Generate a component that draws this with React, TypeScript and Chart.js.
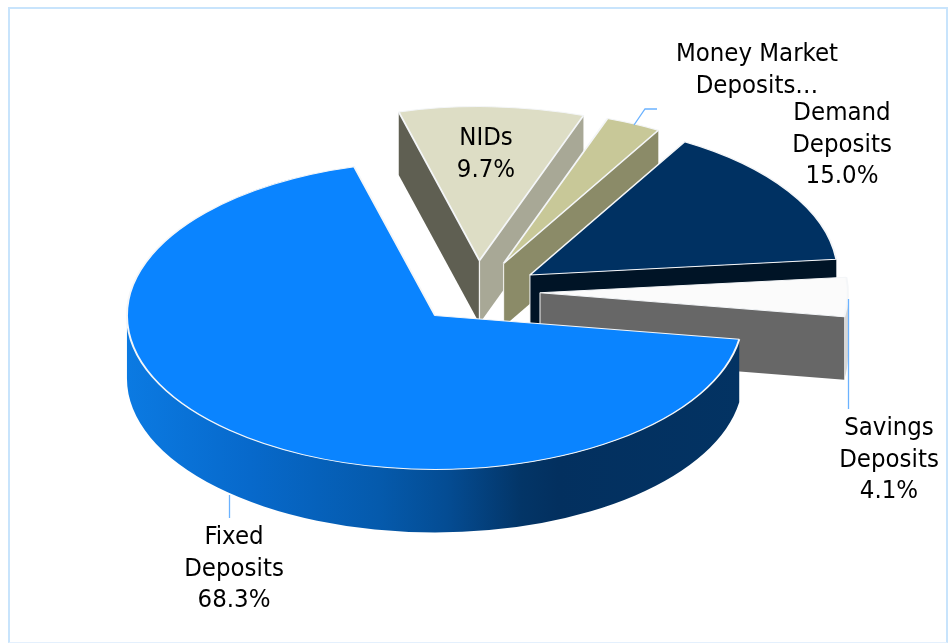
import React, { useEffect, useRef } from "react";
import { Chart, registerables } from "chart.js";

Chart.register(...registerables);

// Slices run clockwise; the largest comes last so it is painted on top.
const categories = ["NIDs", "Money Market Deposits", "Demand Deposits", "Savings Deposits", "Fixed Deposits"];
const shares = [9.7, 2.9, 15.0, 4.1, 68.3];
const labelLines = [["NIDs"], ["Money Market", "Deposits…"], ["Demand", "Deposits"], ["Savings", "Deposits"], ["Fixed", "Deposits"]];
const labelShowsValue = [true, false, true, true, true];

// Face colours per slice.
const topColors = ["#DDDDC5", "#C8C898", "#003162", "#FBFBFB", "#0A84FF"];
const startWallColors = ["#5F5F52", "#8B8B68", "#001426", "#676767", "#04305F"];
const endWallColors = ["#A8A896", "#8B8B68", "#001426", "#676767", "#0A78DC"];
const outerWallColors = ["#A8A896", "#8B8B68", "#001426", "#D8D8D8", null];

// Pie geometry on the canvas.
const CENTER_X = 477;
const CENTER_Y = 292;
const RADIUS = 308;
const TILT = 0.5;
const EXPLODE = 63;
const DEPTH = 63;
const START_ROTATION = 344.8;

const FONT = "condensed 25.5px 'DejaVu Sans'";
const LEADER = "#6BB2FF";

// Label anchor (centre x, first baseline) per slice, and line height.
const labelAnchors = [[486, 145], [757, 61], [842, 120], [889, 435], [234, 544]];
const LINE_HEIGHT = 31.7;

// Leader polylines drawn from the slice towards its label.
const leaders = [
  [[634, 125], [645, 109], [657, 109]],
  [[848.5, 299], [848.5, 409]],
  [[229.5, 495], [229.5, 518]],
];

function fixedWallFill(ctx: CanvasRenderingContext2D, x0: number, x1: number) {
  const g = ctx.createLinearGradient(x0, 0, x1, 0);
  g.addColorStop(0, "#0B7AE2");
  g.addColorStop(0.2, "#0769CB");
  g.addColorStop(0.41, "#055AAC");
  g.addColorStop(0.52, "#044C93");
  g.addColorStop(0.64, "#033567");
  g.addColorStop(0.7, "#03305F");
  g.addColorStop(1, "#033363");
  return g;
}

const solidPie = {
  id: "solidPie",
  afterDatasetsUpdate(chart: any) {
    // Push every slice out along its own mid-angle.
    for (const arc of chart.getDatasetMeta(0).data) {
      const mid = (arc.startAngle + arc.endAngle) / 2;
      arc.x += Math.cos(mid) * EXPLODE;
      arc.y += Math.sin(mid) * EXPLODE;
    }
  },
  beforeDatasetsDraw(chart: any) {
    const ctx: CanvasRenderingContext2D = chart.ctx;
    const rimColor = "rgba(255,255,255,0.8)";
    chart.getDatasetMeta(0).data.forEach((arc: any, i: number) => {
      const ax = arc.x;
      const ay = CENTER_Y + (arc.y - CENTER_Y) * TILT;
      const r = arc.outerRadius;
      const ry = r * TILT;
      const face = (a: number, color: string) => {
        const px = ax + Math.cos(a) * r;
        const py = ay + Math.sin(a) * ry;
        ctx.beginPath();
        ctx.moveTo(ax, ay);
        ctx.lineTo(px, py);
        ctx.lineTo(px, py + DEPTH);
        ctx.lineTo(ax, ay + DEPTH);
        ctx.closePath();
        ctx.fillStyle = color;
        ctx.fill();
        ctx.strokeStyle = rimColor;
        ctx.lineWidth = 1.2;
        ctx.beginPath();
        ctx.moveTo(ax, ay);
        ctx.lineTo(ax, ay + DEPTH);
        ctx.stroke();
      };
      if (Math.cos(arc.startAngle) < 0) face(arc.startAngle, startWallColors[i]);
      if (Math.cos(arc.endAngle) > 0) face(arc.endAngle, endWallColors[i]);
      // Curved rim: only the part on the near side of the ellipse shows.
      for (let k = -1; k <= 2; k++) {
        const from = Math.max(arc.startAngle, k * 2 * Math.PI);
        const to = Math.min(arc.endAngle, k * 2 * Math.PI + Math.PI);
        if (to <= from) continue;
        ctx.beginPath();
        ctx.ellipse(ax, ay, r, ry, 0, from, to, false);
        ctx.ellipse(ax, ay + DEPTH, r, ry, 0, to, from, true);
        ctx.closePath();
        ctx.fillStyle = outerWallColors[i] ?? fixedWallFill(ctx, ax - r, ax + r);
        ctx.fill();
      }
    });
    // Tops are drawn by the chart itself through a tilted coordinate system.
    ctx.save();
    ctx.translate(0, CENTER_Y);
    ctx.scale(1, TILT);
    ctx.translate(0, -CENTER_Y);
  },
  afterDatasetsDraw(chart: any) {
    const ctx: CanvasRenderingContext2D = chart.ctx;
    ctx.restore();
    ctx.strokeStyle = LEADER;
    ctx.lineWidth = 1.3;
    for (const pts of leaders) {
      ctx.beginPath();
      pts.forEach(([x, y], n) => (n ? ctx.lineTo(x, y) : ctx.moveTo(x, y)));
      ctx.stroke();
    }
    ctx.font = FONT;
    ctx.fillStyle = "#000";
    ctx.textAlign = "center";
    ctx.textBaseline = "alphabetic";
    categories.forEach((_, i) => {
      const lines = [...labelLines[i]];
      if (labelShowsValue[i]) lines.push(shares[i].toFixed(1) + "%");
      const [x, y] = labelAnchors[i];
      lines.forEach((t, n) => ctx.fillText(t, x, y + n * LINE_HEIGHT));
    });
  },
};

export default function App() {
  const ref = useRef<HTMLCanvasElement>(null);
  useEffect(() => {
    const chart = new Chart(ref.current!, {
      type: "pie",
      data: {
        labels: categories,
        datasets: [
          {
            data: shares,
            backgroundColor: topColors,
            borderColor: "#F4F6F8",
            borderWidth: 2,
            clip: false,
          } as any,
        ],
      },
      options: {
        responsive: false,
        animation: false,
        rotation: START_ROTATION,
        radius: RADIUS,
        layout: {
          padding: {
            left: Math.max(0, 2 * CENTER_X - 949),
            right: Math.max(0, 949 - 2 * CENTER_X),
            top: Math.max(0, 2 * CENTER_Y - 643),
            bottom: Math.max(0, 643 - 2 * CENTER_Y),
          },
        },
        plugins: { legend: { display: false }, tooltip: { enabled: false } },
      } as any,
      plugins: [solidPie],
    });
    return () => chart.destroy();
  }, []);
  return (
    <div style={{ position: "fixed", left: 0, top: 0, width: 949, height: 643, overflow: "hidden", background: "#fff" }}>
      <canvas ref={ref} width={949} height={643} style={{ position: "absolute", left: 0, top: 0 }} />
      <div
        style={{
          position: "absolute",
          left: 8,
          top: 7,
          width: 936,
          height: 633,
          borderTop: "2px solid #C8E4FC",
          borderLeft: "2px solid #C8E4FC",
          borderRight: "2px solid #C8E4FC",
          borderBottom: "1px solid #E4F0FD",
          pointerEvents: "none",
        }}
      />
    </div>
  );
}
